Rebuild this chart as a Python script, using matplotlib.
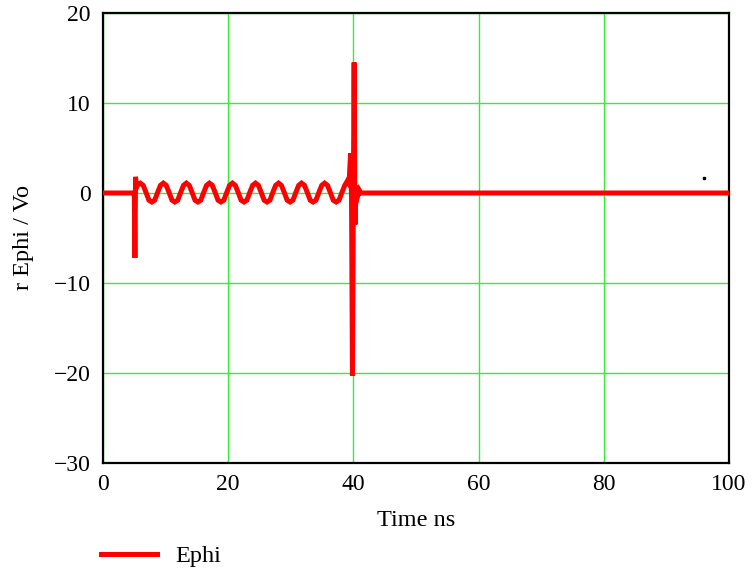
import matplotlib
matplotlib.use('Agg')
import matplotlib.pyplot as plt

# Ephi trace, time in ns
t_ns = [
    0.0, 4.8, 5.0, 5.1, 5.2, 5.35, 5.6,
    5.96, 6.42, 6.88, 7.34, 7.80, 8.26, 8.72, 9.18,
    9.64, 10.10, 10.56, 11.02, 11.48, 11.94, 12.40, 12.86,
    13.32, 13.78, 14.24, 14.70, 15.16, 15.62, 16.08, 16.54,
    17.00, 17.46, 17.92, 18.38, 18.84, 19.30, 19.76, 20.22,
    20.68, 21.14, 21.60, 22.06, 22.52, 22.98, 23.44, 23.90,
    24.36, 24.82, 25.28, 25.74, 26.20, 26.66, 27.12, 27.58,
    28.04, 28.50, 28.96, 29.42, 29.88, 30.34, 30.80, 31.26,
    31.72, 32.18, 32.64, 33.10, 33.56, 34.02, 34.48, 34.94,
    35.40, 35.86, 36.32, 36.78, 37.24, 37.70, 38.16, 38.62,
    39.00, 39.3, 39.55, 39.7, 39.85, 40.0, 40.12, 40.25,
    40.45, 40.7, 40.95, 41.2, 100.0,
]
ephi = [
    0.0, 0.0, 0.0, -7.2, 1.8, 0.6, 1.0,
    1.1, 0.85, 0.05, -0.8, -1.0, -0.8, 0.05, 0.85,
    1.1, 0.85, 0.05, -0.8, -1.0, -0.8, 0.05, 0.85,
    1.1, 0.85, 0.05, -0.8, -1.0, -0.8, 0.05, 0.85,
    1.1, 0.85, 0.05, -0.8, -1.0, -0.8, 0.05, 0.85,
    1.1, 0.85, 0.05, -0.8, -1.0, -0.8, 0.05, 0.85,
    1.1, 0.85, 0.05, -0.8, -1.0, -0.8, 0.05, 0.85,
    1.1, 0.85, 0.05, -0.8, -1.0, -0.8, 0.05, 0.85,
    1.1, 0.85, 0.05, -0.8, -1.0, -0.8, 0.05, 0.85,
    1.1, 0.85, 0.05, -0.8, -1.0, -0.8, 0.05, 0.85,
    1.3, 1.0, 4.4, -0.5, -20.3, 1.0, 14.5, -3.5,
    0.8, -0.3, 0.3, 0.0, 0.0,
]

# stray point near the right edge
dot_t = [96.0]
dot_v = [1.67]

x_ticks = [0, 20, 40, 60, 80, 100]
y_ticks = [-30, -20, -10, 0, 10, 20]

plt.rcParams['font.family'] = ['Liberation Serif', 'DejaVu Serif']

fig = plt.figure(figsize=(7.55, 5.73), dpi=100)
ax = fig.add_axes([103 / 755, 110 / 573, 626 / 755, 450 / 573])

ax.plot(t_ns, ephi, color='#ff0000', linewidth=3.6, solid_joinstyle='miter',
        label='Ephi', zorder=3)
ax.plot(dot_t, dot_v, linestyle='none', marker='s', markersize=1.6,
        color='black', zorder=3)

ax.set_xlim(0, 100)
ax.set_ylim(-30, 20)
ax.set_xticks(x_ticks)
ax.set_yticks(y_ticks)
ax.grid(True, color='#33ee33', linewidth=1.0)
ax.set_axisbelow(True)
ax.tick_params(length=0, labelsize=17, colors='black')
ax.tick_params(axis='x', pad=8)
ax.tick_params(axis='y', pad=9)

for sp in ax.spines.values():
    sp.set_color('black')
    sp.set_linewidth(1.6)

ax.set_xlabel('Time ns', fontsize=17.5)
ax.xaxis.set_label_coords(0.5, -0.104)
ax.set_ylabel('r Ephi / Vo', fontsize=17.5)
ax.yaxis.set_label_coords(-0.110, 0.5)

fig.legend(loc='center left', bbox_to_anchor=(101 / 755, 17 / 573),
           frameon=False, fontsize=17.5, handlelength=2.3, handletextpad=0.75,
           borderpad=0, borderaxespad=0)

fig.savefig('out.png', dpi=100)
